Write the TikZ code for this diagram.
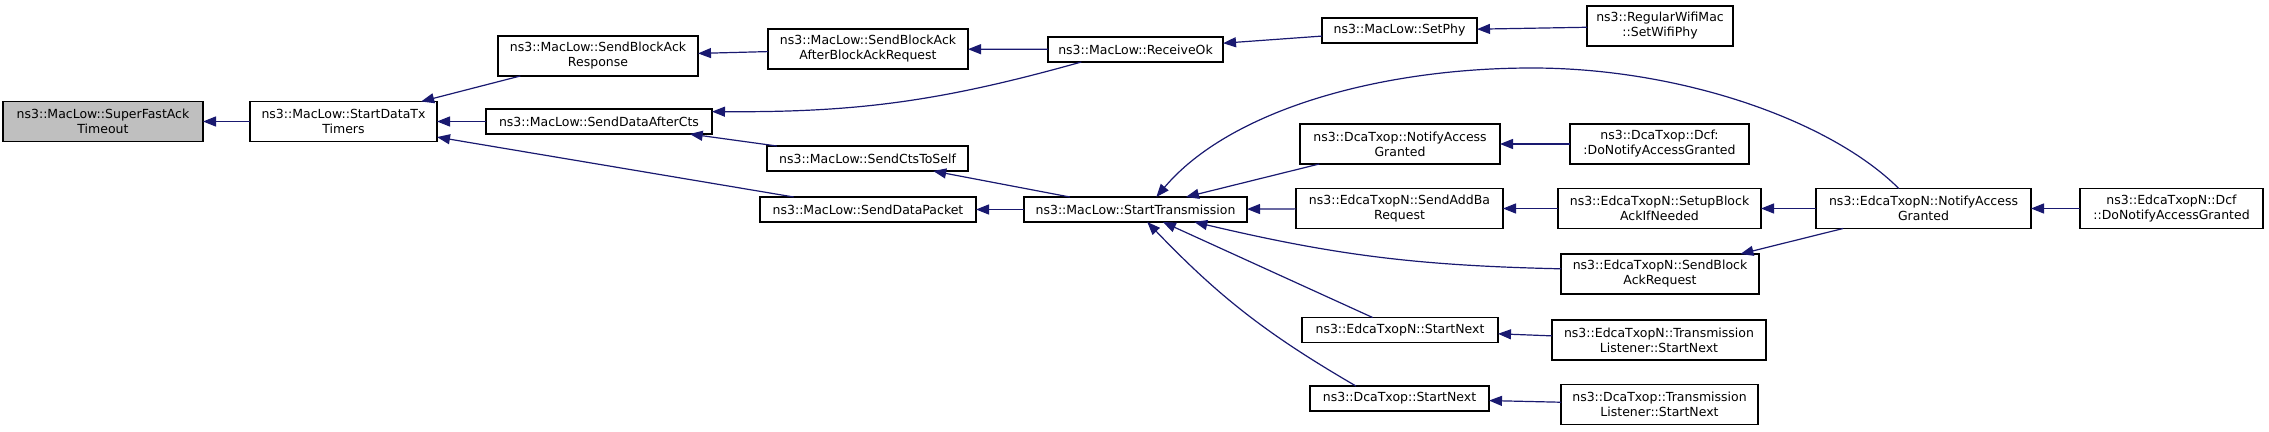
\documentclass[tikz,border=0pt]{standalone}
\usepackage{fontspec}
\setmainfont{DejaVu Sans}
\usetikzlibrary{arrows.meta}
\definecolor{edgeblue}{HTML}{191970}
\definecolor{nodegray}{HTML}{BFBFBF}
\begin{document}
\begin{tikzpicture}[x=1pt,y=-1pt,inner sep=0pt,outer sep=0pt,font=\fontsize{12.5}{15}\selectfont,
fnbox/.style={draw,rectangle,line width=1.2pt,align=center,minimum height=25},
fnbox2/.style={fnbox,minimum height=40},
call/.style={-{Triangle[length=13pt,width=10pt]},draw=edgeblue,line width=1.2pt}]
\useasboundingbox (0,0) rectangle (2269,431);
\draw (103,121.5) node[fnbox2,fill=nodegray,minimum width=200] (sfat) {ns3::MacLow::SuperFastAck\\Timeout};
\draw (343.5,121.5) node[fnbox2,minimum width=187] (sdtt) {ns3::MacLow::StartDataTx\\Timers};
\draw (598,56) node[fnbox2,minimum width=200] (sbar) {ns3::MacLow::SendBlockAck\\Response};
\draw (599,121.5) node[fnbox,minimum width=226] (sdac) {ns3::MacLow::SendDataAfterCts};
\draw (868,209.5) node[fnbox,minimum width=216] (sdp) {ns3::MacLow::SendDataPacket};
\draw (868,49) node[fnbox2,minimum width=200] (sbabar) {ns3::MacLow::SendBlockAck\\AfterBlockAckRequest};
\draw (867.5,158.5) node[fnbox,minimum width=201] (scts) {ns3::MacLow::SendCtsToSelf};
\draw (1135.5,49.5) node[fnbox,minimum width=175] (rok) {ns3::MacLow::ReceiveOk};
\draw (1135.5,209.5) node[fnbox,minimum width=223] (st) {ns3::MacLow::StartTransmission};
\draw (1399.5,30.5) node[fnbox,minimum width=155] (setphy) {ns3::MacLow::SetPhy};
\draw (1400,144) node[fnbox2,minimum width=200] (dnag) {ns3::DcaTxop::NotifyAccess\\Granted};
\draw (1399.5,208.5) node[fnbox2,minimum width=207] (esab) {ns3::EdcaTxopN::SendAddBa\\Request};
\draw (1400,330) node[fnbox,minimum width=196] (esn) {ns3::EdcaTxopN::StartNext};
\draw (1399.5,398.5) node[fnbox,minimum width=179] (dsn) {ns3::DcaTxop::StartNext};
\draw (1660,26) node[fnbox2,minimum width=146] (rwm) {ns3::RegularWifiMac\\::SetWifiPhy};
\draw (1659.5,144) node[fnbox2,minimum width=179] (ddnag) {ns3::DcaTxop::Dcf:\\:DoNotifyAccessGranted};
\draw (1659.5,208.5) node[fnbox2,minimum width=203] (esbain) {ns3::EdcaTxopN::SetupBlock\\AckIfNeeded};
\draw (1660,274) node[fnbox2,minimum width=198] (esbar) {ns3::EdcaTxopN::SendBlock\\AckRequest};
\draw (1659,340) node[fnbox2,minimum width=214] (etlsn) {ns3::EdcaTxopN::Transmission\\Listener::StartNext};
\draw (1659.5,404.5) node[fnbox2,minimum width=197] (dtlsn) {ns3::DcaTxop::Transmission\\Listener::StartNext};
\draw (1923.5,208.5) node[fnbox2,minimum width=215] (enag) {ns3::EdcaTxopN::NotifyAccess\\Granted};
\draw (2171.5,208.5) node[fnbox2,minimum width=183] (ednag) {ns3::EdcaTxopN::Dcf\\::DoNotifyAccessGranted};
\coordinate (peak) at (1532,68);
\draw[call] (sdtt) -- (sfat);
\draw[call] (sbar) -- (sdtt);
\draw[call] (sdac) -- (sdtt);
\draw[call] (sdp) -- (sdtt);
\draw[call] (sbabar) -- (sbar);
\draw[call] (rok) -- (sbabar);
\draw[call] (rok.193) to[bend left=8] (sdac.5);
\draw[call] (setphy) -- (rok);
\draw[call] (rwm) -- (setphy);
\draw[call] (scts) -- (sdac);
\draw[call] (st) -- (scts);
\draw[call] (st) -- (sdp);
\draw[call] (enag.141) .. controls (1830,120) and (1680,68) .. (peak) .. controls (1380,68) and (1230,110) .. (st.31);
\draw[call] (dnag) -- (st);
\draw[call] (esab) -- (st);
\draw[call] (esbar.177) to[bend left=6] (st.-12);
\draw[call] (esn) -- (st);
\draw[call] (dsn.164) to[bend left=8] (st);
\draw[call] (ddnag) -- (dnag);
\draw[call] (esbain) -- (esab);
\draw[call] (enag) -- (esbain);
\draw[call] (enag) -- (esbar);
\draw[call] (ednag) -- (enag);
\draw[call] (etlsn) -- (esn);
\draw[call] (dtlsn) -- (dsn);
\end{tikzpicture}
\end{document}
